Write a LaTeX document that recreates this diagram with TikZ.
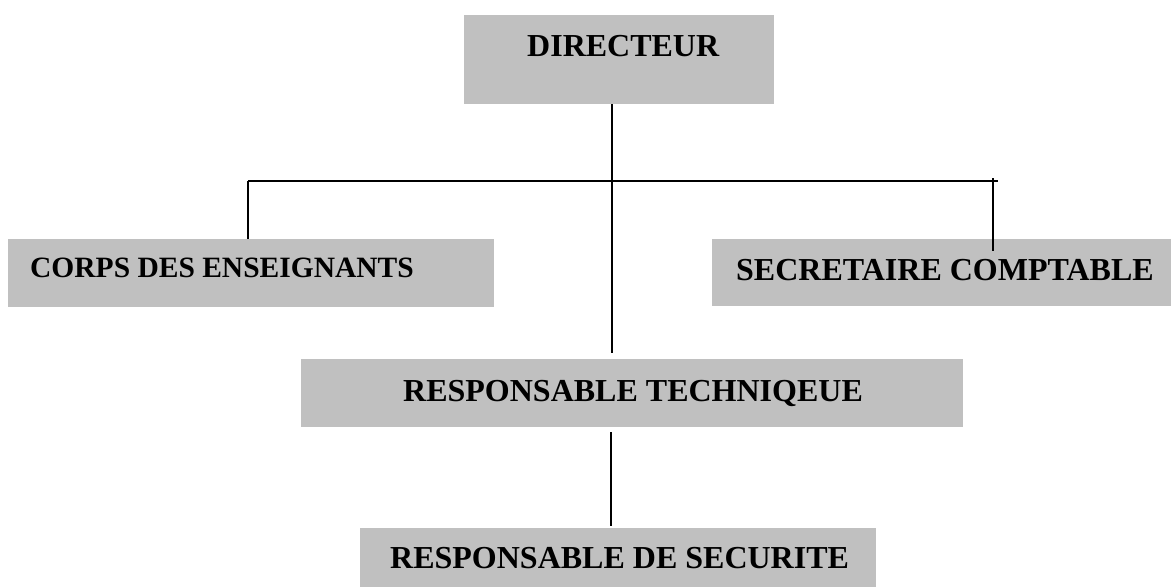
\documentclass[tikz,border=0pt]{standalone}
\usepackage{fontspec}
\setmainfont{Liberation Serif}
\begin{document}
\begin{tikzpicture}[x=1pt,y=1pt,
  box/.style={fill=boxgray,draw=none,inner sep=0pt,rectangle},
  lbl/.style={anchor=base west,inner sep=0pt,font=\fontsize{32}{38}\selectfont\bfseries},
  lblsmall/.style={lbl,font=\fontsize{29.5}{35}\selectfont\bfseries},
  link/.style={line width=1.8pt,black}]
\definecolor{boxgray}{HTML}{C0C0C0}
\useasboundingbox (0,0) rectangle (1171,-587);

% boxes (x from left edge, y downwards from top edge)
\node[box,minimum width=310pt,minimum height=89pt] (dir) at (619,-59.5) {};
\node[box,minimum width=486pt,minimum height=68pt] (corps) at (251,-273) {};
\node[box,minimum width=459pt,minimum height=67pt] (sec) at (941.5,-272.5) {};
\node[box,minimum width=662pt,minimum height=68pt] (rt) at (632,-393) {};
\node[box,minimum width=516pt,minimum height=59pt] (rds) at (618,-557.5) {};

% labels
\node[lbl] (dirt) at (527,-56) {DIRECTEUR};
\node[lblsmall] (corpst) at (30,-277) {CORPS DES ENSEIGNANTS};
\node[lbl] (sect) at (736,-280) {SECRETAIRE COMPTABLE};
\node[lbl] (rtt) at (403,-401) {RESPONSABLE TECHNIQEUE};
\node[lbl] (rdst) at (390,-568) {RESPONSABLE DE SECURITE};

% connector end points
\coordinate (trunktop) at (612,-104);
\coordinate (trunkbot) at (612,-353);
\coordinate (busl) at (248,-181);
\coordinate (busr) at (998,-181);
\coordinate (dropl) at (248,-239);
\coordinate (droprtop) at (993,-178);
\coordinate (droprbot) at (993,-251);
\coordinate (rttop) at (611,-432);
\coordinate (rtbot) at (611,-526);

% connectors
\draw[link] (trunktop) -- (trunkbot);
\draw[link] (busl) -- (busr);
\draw[link] (busl) -- (dropl);
\draw[link] (droprtop) -- (droprbot);
\draw[link,line width=1.5pt] (rttop) -- (rtbot);
\end{tikzpicture}
\end{document}
